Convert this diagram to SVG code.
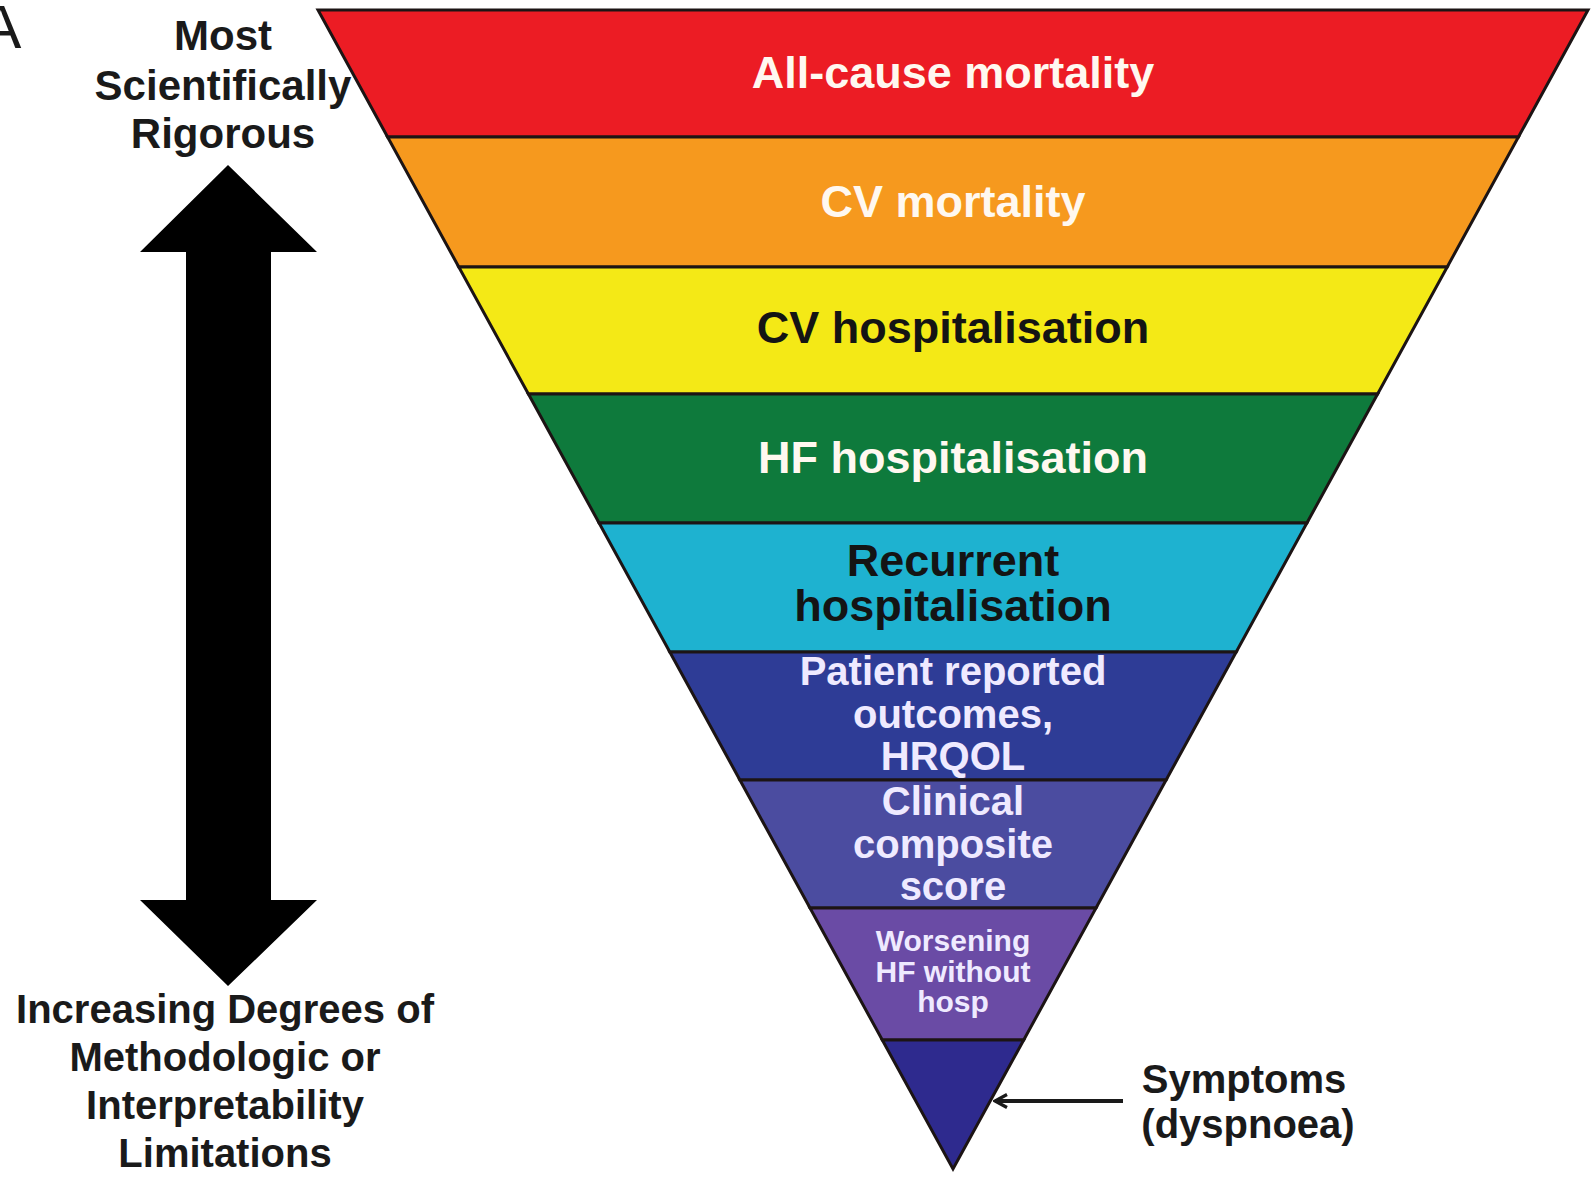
<svg xmlns="http://www.w3.org/2000/svg" width="1594" height="1181" viewBox="0 0 1594 1181">
<style>
.band{stroke:#1c1414;stroke-width:3;stroke-linejoin:miter}
.t{font-family:"Liberation Sans",Arial,sans-serif;font-weight:bold;text-anchor:middle}
.big{font-size:45px}
.mid{font-size:40px}
.sm{font-size:30px}
.w{fill:#fff8f0}
.lw{fill:#efeaff}
.k{fill:#141414}
.side{font-family:"Liberation Sans",Arial,sans-serif;font-weight:bold;fill:#1a1a1a;text-anchor:middle}
</style>
<defs>
<marker id="ah" viewBox="0 0 16 16" refX="14" refY="8" markerWidth="16" markerHeight="16" markerUnits="userSpaceOnUse" orient="auto">
<path d="M2,1.5 L14,8 L2,14.5" fill="none" stroke="#1a1a1a" stroke-width="3.2"/>
</marker>
</defs>
<rect width="1594" height="1181" fill="#ffffff"/>
<text x="-20" y="48" font-family="'Liberation Sans',Arial,sans-serif" font-size="62" fill="#1a1a1a">A</text>

<g id="band-all-cause">
<polygon class="band" fill="#ec1c24" points="318,10 1588,10 1518.4,137 387.6,137"/>
<text class="t big w" x="953" y="88">All-cause mortality</text>
</g>
<g id="band-cv-mortality">
<polygon class="band" fill="#f6991e" points="387.6,137 1518.4,137 1447.2,267 458.8,267"/>
<text class="t big w" x="953" y="217">CV mortality</text>
</g>
<g id="band-cv-hosp">
<polygon class="band" fill="#f4e916" points="458.8,267 1447.2,267 1377.6,394 528.4,394"/>
<text class="t big k" x="953" y="343">CV hospitalisation</text>
</g>
<g id="band-hf-hosp">
<polygon class="band" fill="#0e7a3c" points="528.4,394 1377.6,394 1306.9,523 599.1,523"/>
<text class="t big w" x="953" y="473">HF hospitalisation</text>
</g>
<g id="band-recurrent">
<polygon class="band" fill="#1eb2d0" points="599.1,523 1306.9,523 1236.2,652 669.8,652"/>
<text class="t big k" x="953" y="576">Recurrent</text>
<text class="t big k" x="953" y="621">hospitalisation</text>
</g>
<g id="band-pro">
<polygon class="band" fill="#2e3c96" points="669.8,652 1236.2,652 1166.1,780 739.9,780"/>
<text class="t mid lw" x="953" y="685">Patient reported</text>
<text class="t mid lw" x="953" y="728">outcomes,</text>
<text class="t mid lw" x="953" y="770">HRQOL</text>
</g>
<g id="band-composite">
<polygon class="band" fill="#4b4ca0" points="739.9,780 1166.1,780 1096,908 810,908"/>
<text class="t mid lw" x="953" y="815">Clinical</text>
<text class="t mid lw" x="953" y="858">composite</text>
<text class="t mid lw" x="953" y="900">score</text>
</g>
<g id="band-worsening">
<polygon class="band" fill="#6a4ba5" points="810,908 1096,908 1023.7,1040 882.3,1040"/>
<text class="t sm lw" x="953" y="951">Worsening</text>
<text class="t sm lw" x="953" y="982">HF without</text>
<text class="t sm lw" x="953" y="1012">hosp</text>
</g>
<g id="band-symptoms">
<polygon class="band" fill="#2e2a8e" points="882.3,1040 1023.7,1040 953,1169"/>
</g>

<g id="label-top">
<text class="side" font-size="42" x="223" y="50">Most</text>
<text class="side" font-size="42" x="223" y="100">Scientifically</text>
<text class="side" font-size="42" x="223" y="148">Rigorous</text>
</g>
<g id="label-bottom">
<text class="side" font-size="40" x="225" y="1023">Increasing Degrees of</text>
<text class="side" font-size="40" x="225" y="1071">Methodologic or</text>
<text class="side" font-size="40" x="225" y="1119">Interpretability</text>
<text class="side" font-size="40" x="225" y="1167">Limitations</text>
</g>
<g id="label-symptoms">
<text class="side" font-size="40" x="1244" y="1093">Symptoms</text>
<text class="side" font-size="40" x="1248" y="1138">(dyspnoea)</text>
</g>

<g id="connectors">
<polygon id="scale-arrow" fill="#000000" points="228,165 317,252 271,252 271,900 317,900 228,986 140,900 186,900 186,252 140,252"/>
<line x1="1123" y1="1101" x2="995" y2="1101" stroke="#1a1a1a" stroke-width="4" marker-end="url(#ah)"/>
</g>
</svg>
